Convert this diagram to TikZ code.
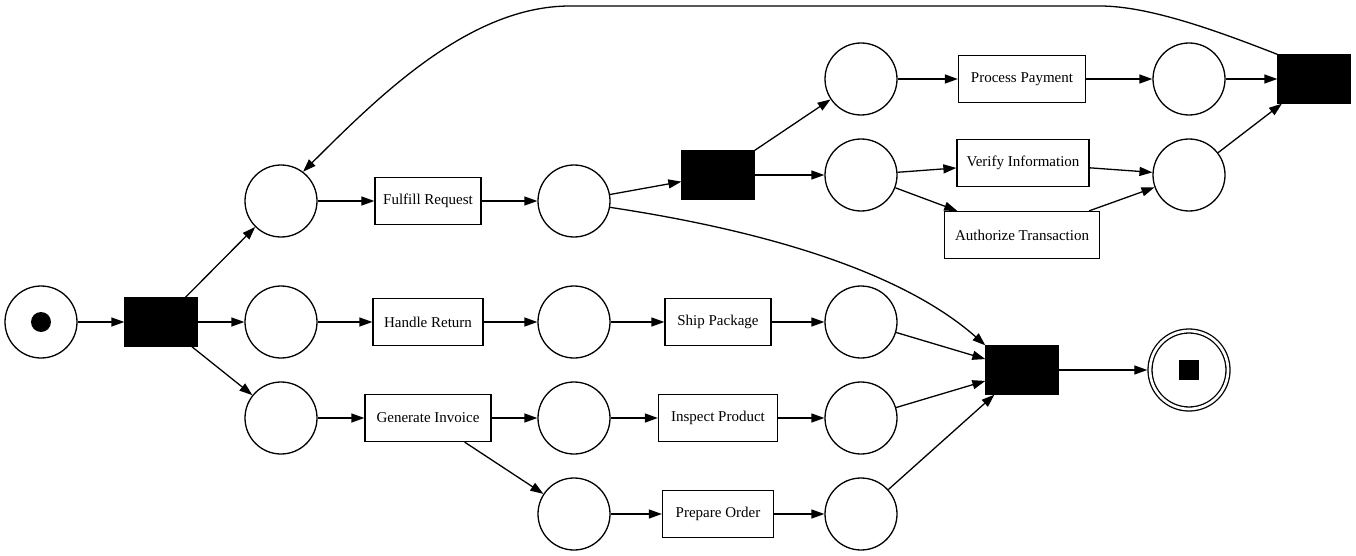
\documentclass[tikz,border=0pt]{standalone}
\usepackage{fontspec}
\setmainfont{Liberation Serif}
\usetikzlibrary{arrows.meta}
\tikzset{
  place/.style={circle, draw, minimum size=72pt, inner sep=0pt},
  trans/.style={rectangle, draw, fill=black, minimum width=72pt, minimum height=48pt, inner sep=0pt},
  task/.style={rectangle, draw, minimum height=47pt, inner sep=0pt, font=\fontsize{15pt}{17pt}\selectfont},
}
\begin{document}
\begin{tikzpicture}[x=1pt, y=-1pt, line width=1.3pt]
  \useasboundingbox (0,0) rectangle (1356,556);
  % places
  \node[place] (pstart) at (41,322) {};
  \node[circle, fill, minimum size=20pt, inner sep=0pt] (token) at (pstart) {};
  \node[place] (p1) at (281,201) {};
  \node[place] (p2) at (281,322) {};
  \node[place] (p3) at (281,418) {};
  \node[place] (p4) at (574,201) {};
  \node[place] (p5) at (574,322) {};
  \node[place] (p6) at (574,418) {};
  \node[place] (p7) at (574,514) {};
  \node[place] (p8) at (861,79) {};
  \node[place] (p9) at (861,175) {};
  \node[place] (p10) at (861,322) {};
  \node[place] (p11) at (861,418) {};
  \node[place] (p12) at (861,514) {};
  \node[place] (p13) at (1189,79) {};
  \node[place] (p14) at (1189,175) {};
  \node[place, minimum size=78pt, double, double distance=2.7pt, outer sep=2.7pt] (pend) at (1189,370) {};
  \node[rectangle, fill, minimum size=20pt, inner sep=0pt] (endtoken) at (pend) {};
  % silent transitions
  \node[trans] (t1) at (161,322) {};
  \node[trans] (t2) at (718,175) {};
  \node[trans] (t3) at (1314,79) {};
  \node[trans] (t4) at (1022,370) {};
  % tasks
  \node[task, minimum width=106pt] (fulfill) at (428,201) {Fulfill Request};
  \node[task, minimum width=110pt] (return) at (428,322) {Handle Return};
  \node[task, minimum width=126pt] (invoice) at (428,418) {Generate Invoice};
  \node[task, minimum width=106pt] (ship) at (718,322) {Ship Package};
  \node[task, minimum width=119pt] (inspect) at (718,418) {Inspect Product};
  \node[task, minimum width=111pt] (prepare) at (718,514) {Prepare Order};
  \node[task, minimum width=127pt] (payment) at (1022,79) {Process Payment};
  \node[task, minimum width=132pt] (verify) at (1023,163) {Verify Information};
  \node[task, minimum width=155pt] (authorize) at (1022,235) {Authorize Transaction};
  \begin{scope}[-{Triangle[length=13pt, width=9pt]}]
    \draw (pstart) to (t1);
    \draw (t1) to (p1);
    \draw (t1) to (p2);
    \draw (t1) to (p3);
    \draw (p1) to (fulfill);
    \draw (fulfill) to (p4);
    \draw (p2) to (return);
    \draw (return) to (p5);
    \draw (p3) to (invoice);
    \draw (invoice) to (p6);
    \draw (invoice) to (p7);
    \draw (p4) to (t2);
    \draw (p5) to (ship);
    \draw (p6) to (inspect);
    \draw (p7) to (prepare);
    \draw (t2) to (p8);
    \draw (t2) to (p9);
    \draw (ship) to (p10);
    \draw (inspect) to (p11);
    \draw (prepare) to (p12);
    \draw (p8) to (payment);
    \draw (p9) to (verify);
    \draw (p9) to (authorize);
    \draw (payment) to (p13);
    \draw (verify) to (p14);
    \draw (authorize) to (p14);
    \draw (p13) to (t3);
    \draw (p14) to (t3);
    \draw (p10) to (t4);
    \draw (p11) to (t4);
    \draw (p12) to (t4);
    \draw (t4) to (pend);
    \draw (p4.-10) .. controls (760,230) and (900,270) .. (t4.north west);
    \draw (t3.north west) .. controls (1220,32) and (1150,6) .. (1100,6)
      -- (570,6) .. controls (470,6) and (380,95) .. (p1.53);
  \end{scope}
\end{tikzpicture}
\end{document}
